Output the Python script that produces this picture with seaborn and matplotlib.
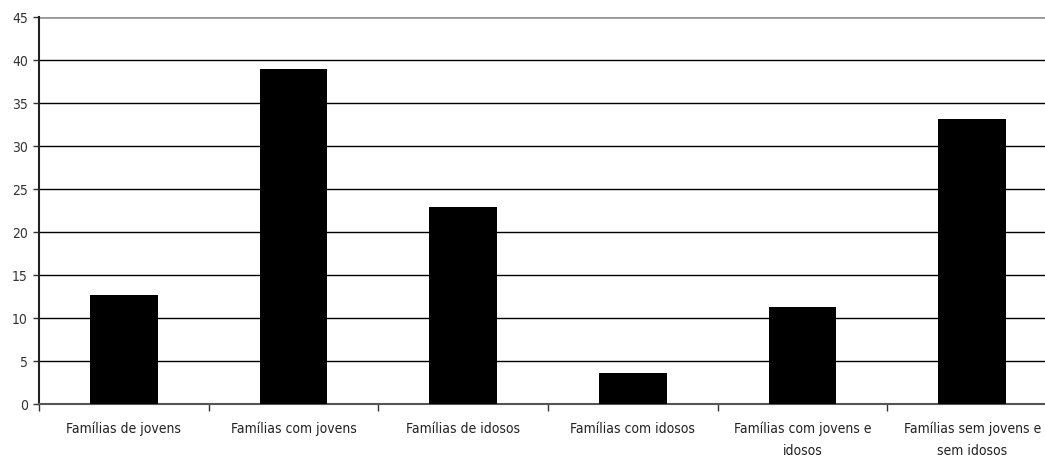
import numpy as np
import pandas as pd
import matplotlib
matplotlib.use("Agg")
import matplotlib.pyplot as plt
import seaborn as sns

# data
categories = [
    "Famílias de jovens",
    "Famílias com jovens",
    "Famílias de idosos",
    "Famílias com idosos",
    "Famílias com jovens e\nidosos",
    "Famílias sem jovens e\nsem idosos",
]
values = [12.7, 39.0, 22.9, 3.6, 11.3, 33.1]
y_ticks = [0, 5, 10, 15, 20, 25, 30, 35, 40, 45]

df = pd.DataFrame({"cat": categories, "val": values})

sns.set_style("white")
plt.rcParams["font.family"] = ["Liberation Sans Narrow", "DejaVu Sans Condensed", "DejaVu Sans"]
plt.rcParams["font.stretch"] = "condensed"

fig = plt.figure(figsize=(10.45, 4.56), dpi=100)
# plot area runs a little past the right edge of the picture, like the original
ax = fig.add_axes([39 / 1045, 51 / 456, 1018 / 1045, 387 / 456])

sns.barplot(data=df, x="cat", y="val", color="black", width=0.40,
            saturation=1, edgecolor="black", linewidth=0, ax=ax, zorder=3)

ax.set_xlim(-0.5, len(categories) - 0.5)
ax.set_ylim(0, 45)
ax.set_yticks(y_ticks)
ax.set_yticklabels([str(t) for t in y_ticks], fontsize=10, color="#333333")
ax.set_xticks(range(len(categories)))
ax.set_xticklabels(categories, fontsize=10, color="#222222", linespacing=1.7)
ax.set_xticks(np.arange(-0.5, len(categories)), minor=True)
ax.tick_params(axis="x", which="major", bottom=True, length=0, pad=12)
ax.tick_params(axis="x", which="minor", bottom=True, length=5, width=1, color="#333333")
ax.tick_params(axis="y", left=True, length=4, width=1, color="#333333", pad=4)

# gridlines: black, top one gray
for t in y_ticks[1:-1]:
    ax.axhline(t, color="black", lw=1, zorder=1)
ax.axhline(45, color="#999999", lw=2, zorder=1)

ax.set_xlabel("")
ax.set_ylabel("")
for s in ["top", "right"]:
    ax.spines[s].set_visible(False)
ax.spines["left"].set_color("#222222")
ax.spines["left"].set_linewidth(1.5)
ax.spines["bottom"].set_color("#555555")
ax.spines["bottom"].set_linewidth(1.5)

fig.savefig("out.png", dpi=100)
